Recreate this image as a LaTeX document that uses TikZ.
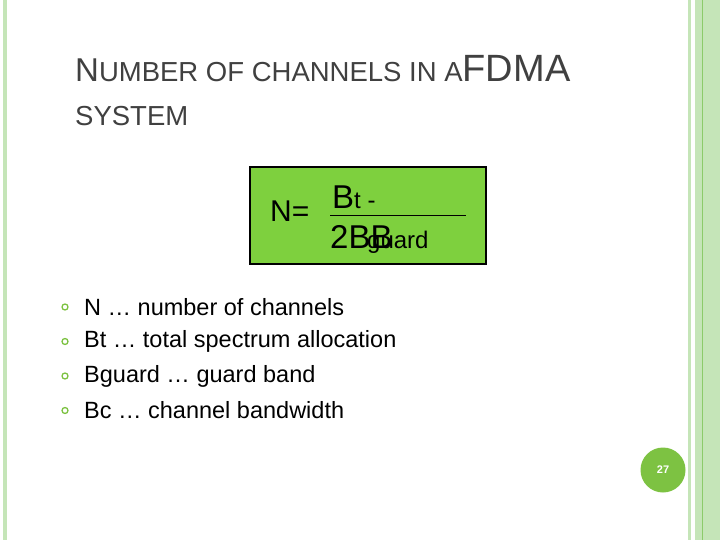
\documentclass[tikz,border=0pt]{standalone}
\usepackage{fontspec}
\setmainfont{Liberation Sans}
\usetikzlibrary{positioning}
\definecolor{stripe}{HTML}{C5E5B8}
\definecolor{stripedk}{HTML}{8CCB6A}
\definecolor{boxgreen}{HTML}{7ED03E}
\definecolor{bulletgreen}{HTML}{7DC242}
\definecolor{txtgray}{HTML}{404040}
\tikzset{
  bl/.style={circle, draw=bulletgreen, line width=1.3pt, inner sep=0pt, minimum size=6pt},
  item/.style={anchor=west, inner sep=0pt, font=\fontsize{23.5}{27}\selectfont},
  big/.style={inner sep=0pt, font=\fontsize{33}{38}\selectfont}
}
\begin{document}
\begin{tikzpicture}[x=1pt,y=-1pt]
\useasboundingbox (0,0) rectangle (720,540);
% stripes
\fill[stripe] (3,0) rectangle (7,540);
\fill[stripe] (688,0) rectangle (691,540);
\fill[stripe] (695,0) rectangle (720,540);
\draw[stripedk, line width=0.8pt] (702,0) -- (702,540);
% title
\node[anchor=base west, inner sep=0pt, text=txtgray] (t1) at (75,82)
  {\fontsize{33}{36}\selectfont N\fontsize{27.5}{30}\selectfont UMBER OF CHANNELS IN A\fontsize{38}{40}\selectfont FDMA};
\node[anchor=base west, inner sep=0pt, text=txtgray] (t2) at (75,126)
  {\fontsize{27.5}{30}\selectfont SYSTEM};
% formula box
\node[draw=black, line width=1.2pt, fill=boxgreen, minimum width=236pt, minimum height=97pt, inner sep=0pt] (box) at (368,215.5) {};
\node[big, anchor=base west] (neq) at (270,222) {\fontsize{30}{34}\selectfont N=};
\draw[line width=0.8pt] (330,215) -- (466,215);
\node[big, anchor=base west] (num) at (332,209) {B\fontsize{24}{28}\selectfont t -};
\node[big, anchor=base west] (den) at (330,248) {2BB};
\node[inner sep=0pt, anchor=base west, font=\fontsize{24}{28}\selectfont] (gd) at (367,248) {guard};
% bullets
\foreach \i/\t in {0/{N … number of channels},1/{Bt … total spectrum allocation},2/{Bguard … guard band},3/{Bc … channel bandwidth}}{
  \node[bl] (b\i) at (65,307+34.5*\i) {};
  \node[item] (l\i) at (84,307+34.5*\i) {\t};
}
% page number
\node[circle, fill=bulletgreen, minimum size=45pt, inner sep=0pt, text=white, font=\bfseries\fontsize{11}{13}\selectfont] (pg) at (663,470) {27};
\end{tikzpicture}
\end{document}
